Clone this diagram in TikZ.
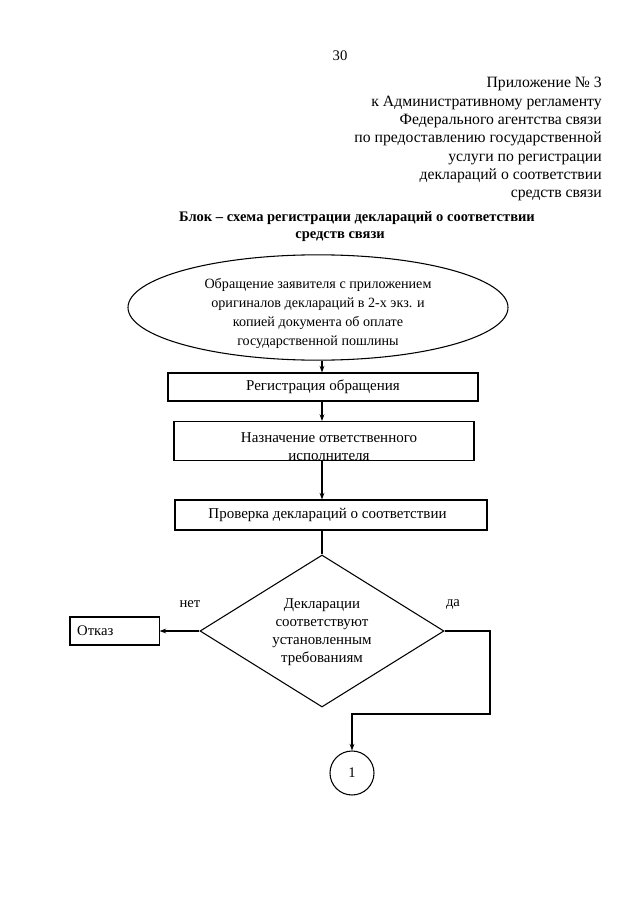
\documentclass[tikz,border=0pt]{standalone}
\usepackage{fontspec}
\setmainfont{Liberation Serif}
\usetikzlibrary{shapes.geometric,arrows.meta}
\begin{document}
\begin{tikzpicture}[x=0.75pt,y=-0.75pt,
  txt/.style={font=\fontsize{11}{13.6}\selectfont, inner sep=0pt, align=center},
  boxtxt/.style={font=\fontsize{11.25}{13.6}\selectfont, inner sep=0pt, align=center},
  headtxt/.style={font=\fontsize{11.8}{13.75}\selectfont, inner sep=0pt, align=right},
  elltxt/.style={font=\fontsize{10.6}{14.3}\selectfont, inner sep=0pt, align=center},
  diatxt/.style={font=\fontsize{11.2}{13.6}\selectfont, inner sep=0pt, align=center},
  boldtxt/.style={font=\fontsize{10.9}{13.7}\selectfont\bfseries, inner sep=0pt},
  stepbox/.style={draw, rectangle, line width=0.8pt, inner sep=0pt},
  ellbox/.style={draw, ellipse, line width=0.8pt, inner sep=0pt},
  diabox/.style={draw, diamond, line width=0.8pt, inner sep=0pt},
  circbox/.style={draw, circle, line width=0.8pt, inner sep=0pt},
  conn/.style={line width=0.8pt},
  arr/.style={line width=0.8pt, -{Stealth[length=5pt,width=3.6pt]}}]
\useasboundingbox (0,0) rectangle (640,905);
\fill[white] (0,0) rectangle (640,905);

% page number and header
\node[txt] (pnum) at (340,56) {30};
\node[headtxt, anchor=north east] (head) at (602,77)
  {Приложение № 3\\к Административному регламенту\\Федерального агентства связи\\по предоставлению государственной\\услуги по регистрации\\деклараций о соответствии\\средств связи};

% title
\node[boldtxt] (title1) at (357,218) {Блок – схема регистрации деклараций о соответствии};
\node[boldtxt] (title2) at (340,237) {средств связи};

% column coordinate
\coordinate (col) at (322,0);

% ellipse
\node[ellbox, minimum width=285pt, minimum height=79pt] (ell) at (318,307.5) {};
\node[elltxt] (ellt) at (318,313.5) {Обращение заявителя с приложением\\оригиналов деклараций в 2-х экз. и\\копией документа об оплате\\государственной пошлины};

% box 1
\node[stepbox, minimum width=232.5pt, minimum height=21pt, boxtxt] (box1) at (323,387) {Регистрация обращения};

% box 2
\node[stepbox, minimum width=225pt, minimum height=29.25pt] (box2) at (324,441) {};
\begin{scope}
  \clip (box2.south west) rectangle (box2.north east);
  \node[boxtxt, anchor=north] (box2t) at (329,432) {Назначение ответственного\\исполнителя};
\end{scope}

% box 3
\node[stepbox, minimum width=234pt, minimum height=22.5pt] (box3) at (331,515) {};
\node[boxtxt] (box3t) at (327.5,515) {Проверка деклараций о соответствии};

% diamond
\node[diabox, minimum width=183pt, minimum height=114pt] (dia) at (322,631) {};
\node[diatxt] (diat) at (322,632) {Декларации\\соответствуют\\установленным\\требованиям};

% refusal box
\node[stepbox, minimum height=21pt, text width=56pt, inner xsep=5.4pt, align=left, font=\fontsize{11}{13.6}\selectfont] (otk) at (114.5,631) {Отказ};

% labels
\node[txt] (net) at (190,604) {нет};
\node[txt] (da) at (453,604) {да};

% circle
\node[circbox, minimum size=33pt, txt] (circ) at (352,773) {1};

% connectors
\draw[arr] (col |- ell.south) -- (col |- box1.north);
\draw[arr] (col |- box1.south) -- (col |- box2.north);
\draw[arr] (col |- box2.south) -- (col |- box3.north);
\draw[conn] (col |- box3.south) -- (dia.north);
\draw[arr] (dia.west) -- (otk.east);
\coordinate (c1) at (490,631);
\coordinate (c2) at (490,714);
\coordinate (c3) at (352,714);
\draw[arr] (dia.east) -- (c1) -- (c2) -- (c3) -- (circ.north);
\end{tikzpicture}
\end{document}
